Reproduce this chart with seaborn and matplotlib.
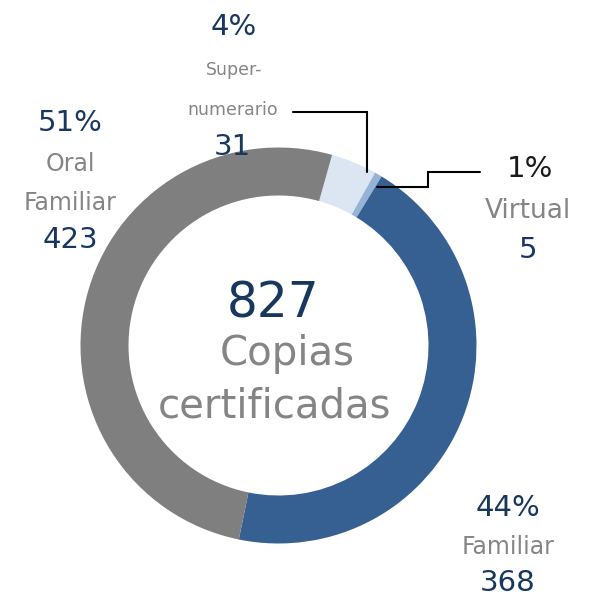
import matplotlib
matplotlib.use("Agg")
import matplotlib.pyplot as plt
import seaborn as sns

sns.set_theme(style="white")
plt.rcParams['font.family'] = ['DejaVu Sans']

# Data (clockwise order starting near the top)
categories = ["Super-\nnumerario", "Virtual", "Familiar", "Oral\nFamiliar"]
values = [31, 5, 368, 423]
percent_labels = ["4%", "1%", "44%", "51%"]
total_label = "827"
center_lines = ["Copias", "certificadas"]
colors = ["#DCE6F2", "#95B3D7", "#376092", "#7F7F7F"]

NAVY = "#17375E"
GRAY = "#858585"

W, H = 594, 599
fig = plt.figure(figsize=(W / 100, H / 100), dpi=100)
ax = fig.add_axes([0, 0, 1, 1])

def py(y):
    return H - y

cx, cy, R = 278.5, 345.5, 198
ax.pie(values, colors=colors, startangle=74.3, counterclock=False,
       center=(cx, py(cy)), radius=R,
       wedgeprops=dict(width=48, linewidth=0))
ax.set_xlim(0, W)
ax.set_ylim(0, H)
ax.set_aspect('equal', adjustable='box')
ax.axis('off')

def txt(x, y, s, size, color):
    ax.text(x, py(y), s, fontsize=size, color=color, ha='center', va='baseline')

# Super-numerario
txt(234, 35, percent_labels[0], 21, NAVY)
txt(234, 75, "Super-", 12.5, GRAY)
txt(233, 115, "numerario", 12.5, GRAY)
txt(232, 155, str(values[0]), 21, NAVY)

# Virtual
txt(530, 177, percent_labels[1], 21, "#1a1a1a")
txt(528, 218, categories[1], 19, GRAY)
txt(528, 258, str(values[1]), 21, NAVY)

# Familiar
txt(508, 516, percent_labels[2], 21, NAVY)
txt(508, 554, categories[2], 17, GRAY)
txt(508, 591, str(values[2]), 21, NAVY)

# Oral Familiar
txt(70, 131, percent_labels[3], 21, NAVY)
txt(70, 171, "Oral", 17, GRAY)
txt(70, 210, "Familiar", 17, GRAY)
txt(70, 248, str(values[3]), 21, NAVY)

# Center
txt(273, 317, total_label, 35, NAVY)
txt(287, 365, center_lines[0], 29, GRAY)
txt(274, 417, center_lines[1], 29, GRAY)

# Leader lines
ax.plot([293, 367, 367], [py(112), py(112), py(172)], color="black", lw=1.5,
        solid_joinstyle='miter')
ax.plot([377, 428, 428, 480], [py(187), py(187), py(172), py(172)], color="black",
        lw=1.5, solid_joinstyle='miter')

fig.savefig("out.png", dpi=100, facecolor="white")
